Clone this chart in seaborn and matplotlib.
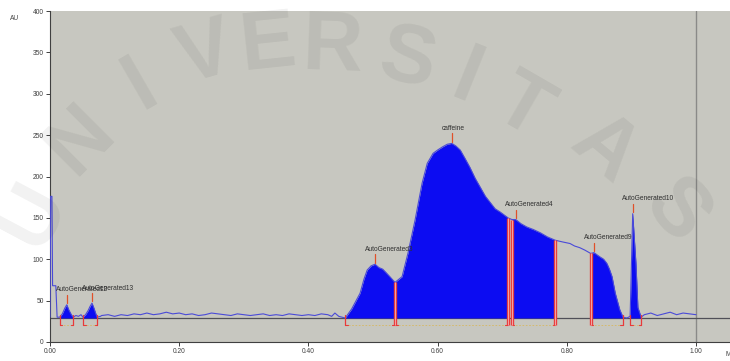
import numpy as np
import pandas as pd
import matplotlib
matplotlib.use("Agg")
import matplotlib.pyplot as plt
import seaborn as sns

# Detector trace (minutes, AU)
time_min = [
    0.000, 0.001, 0.003, 0.004, 0.009, 0.011, 0.015, 0.019, 0.023, 0.026,
    0.029, 0.033, 0.036, 0.040, 0.044, 0.048, 0.051, 0.055, 0.059, 0.062,
    0.065, 0.068, 0.071, 0.073, 0.078,
    0.08, 0.09, 0.10, 0.11, 0.12, 0.13, 0.14, 0.15, 0.16, 0.17,
    0.18, 0.19, 0.20, 0.21, 0.22, 0.23, 0.24, 0.25, 0.26, 0.27,
    0.28, 0.29, 0.30, 0.31, 0.32, 0.33, 0.34, 0.35, 0.36, 0.37,
    0.38, 0.39, 0.40, 0.41, 0.42, 0.43, 0.436, 0.441, 0.447, 0.452,
    0.457, 0.467, 0.480, 0.486, 0.491, 0.497, 0.503, 0.509, 0.515, 0.520,
    0.526, 0.534, 0.545, 0.554, 0.565, 0.576, 0.584, 0.593, 0.600, 0.608,
    0.615, 0.622, 0.628, 0.635, 0.643, 0.650, 0.658, 0.666, 0.674, 0.681,
    0.689, 0.697, 0.709, 0.715, 0.721, 0.729, 0.738, 0.748, 0.759, 0.770,
    0.782, 0.793, 0.805, 0.812, 0.820, 0.828, 0.837, 0.842, 0.851, 0.857,
    0.862, 0.866, 0.870, 0.875, 0.882, 0.887, 0.893,
    0.898, 0.902, 0.907, 0.910, 0.915,
    0.92, 0.93, 0.94, 0.95, 0.96, 0.97, 0.98, 0.99, 1.00,
]
signal_au = [
    30, 176, 176, 68, 68, 30, 30, 34, 41, 45,
    39, 33, 30, 32, 31, 33, 30, 33, 38, 43,
    47, 41, 34, 30, 31,
    32, 33, 31, 33, 32, 34, 33, 35, 33, 34,
    36, 34, 35, 33, 34, 32, 33, 35, 34, 33,
    32, 34, 33, 32, 33, 34, 32, 33, 32, 34,
    33, 32, 33, 32, 34, 33, 31, 35, 31, 30,
    29, 40, 59, 76, 87, 92, 94, 90, 88, 84,
    79, 72, 79, 107, 147, 192, 216, 228, 232, 236,
    239, 240, 237, 232, 221, 211, 198, 187, 176, 169,
    161, 157, 150, 148, 148, 143, 139, 136, 132, 127,
    123, 121, 119, 116, 114, 111, 107, 108, 103, 100,
    95, 88, 79, 59, 39, 30, 29,
    31, 155, 95, 42, 30,
    33, 35, 32, 34, 36, 33, 35, 34, 33,
]

# Integrated peaks: name, start, apex, end (minutes)
peak_names = ["AutoGenerated12", "AutoGenerated13", "AutoGenerated3", "caffeine",
              "AutoGenerated4", "AutoGenerated9", "AutoGenerated10"]
peak_start = [0.015, 0.051, 0.457, 0.534, 0.715, 0.837, 0.898]
peak_apex = [0.026, 0.065, 0.503, 0.622, 0.721, 0.842, 0.902]
peak_end = [0.036, 0.073, 0.534, 0.709, 0.782, 0.887, 0.915]

baseline_au = 29
x_ticks = [0.0, 0.2, 0.4, 0.6, 0.8, 1.0]
y_ticks = [0, 50, 100, 150, 200, 250, 300, 350, 400]

trace = pd.DataFrame({"Minutes": time_min, "AU": signal_au})
t = np.asarray(time_min)
s = np.asarray(signal_au, dtype=float)

sns.set_theme(style="white")
plt.rcParams["font.family"] = ["Liberation Sans", "DejaVu Sans"]

fig = plt.figure(figsize=(7.30, 3.61), dpi=100)
fig.patch.set_facecolor("white")
ax = fig.add_axes([50 / 730, 19 / 361, 680 / 730, 331 / 361])
ax.set_facecolor("#c7c7c0")

fill_color = "#0c0cf2"
line_color = "#4a4ad8"

# peak areas between trace and baseline
for a, b in zip(peak_start, peak_end):
    m = (t >= a - 1e-9) & (t <= b + 1e-9)
    ax.fill_between(t, baseline_au, s, where=m, color=fill_color, lw=0, zorder=2)

sns.lineplot(data=trace, x="Minutes", y="AU", ax=ax, estimator=None, sort=False,
             color=line_color, lw=0.8, zorder=3)

ax.axhline(baseline_au, color="#505058", lw=0.9, zorder=1.5)
ax.axvline(1.0, color="#8a8a88", lw=1.0, zorder=1)

red = "#e83a3a"
pink = "#f4a0a0"
def trace_at(x):
    return float(np.interp(x, t, s))

boundaries = sorted(set(peak_start + peak_end))
tall = {0.534, 0.709, 0.715, 0.782, 0.837}
for xb in boundaries:
    if xb in tall:
        top = trace_at(xb)
        ax.plot([xb, xb], [20, top], color=red, lw=2.4, zorder=4, solid_capstyle="butt")
        ax.plot([xb, xb], [20, top], color=pink, lw=0.8, zorder=4.1, solid_capstyle="butt")
    else:
        ax.plot([xb, xb], [20, baseline_au + 4], color=red, lw=0.9, zorder=4)

# start/end feet and dotted baseline segments
for a, b in zip(peak_start, peak_end):
    ax.plot([a, a + 0.004], [20, 20], color=red, lw=0.8, zorder=4)
    ax.plot([b - 0.004, b], [20, 20], color=red, lw=0.8, zorder=4)
    ax.plot([a, b], [20, 20], color="#d8b860", lw=0.6, ls=(0, (2, 2)), zorder=3.5)

# apex ticks and names
for name, xa in zip(peak_names, peak_apex):
    ya = trace_at(xa)
    ax.plot([xa, xa], [ya + 2, ya + 12], color="#e0502a", lw=0.9, zorder=4)
    ax.text(xa - 0.016, ya + 14, name, fontsize=4.8, color="#303030",
            ha="left", va="bottom", zorder=5)

ax.set_xlim(0, 1.0526)
ax.set_ylim(0, 400)
ax.set_xticks(x_ticks)
ax.set_xticklabels([f"{v:.2f}" for v in x_ticks])
ax.set_yticks(y_ticks)
ax.set_yticklabels([str(v) for v in y_ticks])
ax.tick_params(axis="both", labelsize=4.8, colors="#404040", length=3, width=0.7,
               direction="out", pad=1.5, left=True, bottom=True)
ax.set_xlabel("")
ax.set_ylabel("")
for side in ["top", "right"]:
    ax.spines[side].set_visible(False)
for side in ["left", "bottom"]:
    ax.spines[side].set_color("#404040")
    ax.spines[side].set_linewidth(0.8)

fig.text(15 / 730, 1 - 18 / 361, "AU", fontsize=4.8, color="#404040", ha="center", va="center")
fig.text(726 / 730, 1 - 355 / 361, "Minutes", fontsize=4.8, color="#404040", ha="left", va="center")

# faint arched watermark lettering over the whole figure
wm_letters = ["U", "N", "I", "V", "E", "R", "S", "I", "T", "A", "S"]
wm_px = [(34, 215), (80, 140), (140, 85), (205, 55), (268, 45), (332, 48),
         (408, 60), (466, 80), (522, 108), (605, 150), (676, 212)]
wm_rot = [62, 45, 30, 16, 6, -2, -12, -22, -30, -40, -50]
for ch, (px, py), r in zip(wm_letters, wm_px, wm_rot):
    fig.text(px / 730, 1 - py / 361, ch, fontsize=60, fontweight="bold",
             color="black", alpha=0.055, ha="center", va="center", rotation=r,
             zorder=10)

fig.savefig("out.png", dpi=100, facecolor="white")
